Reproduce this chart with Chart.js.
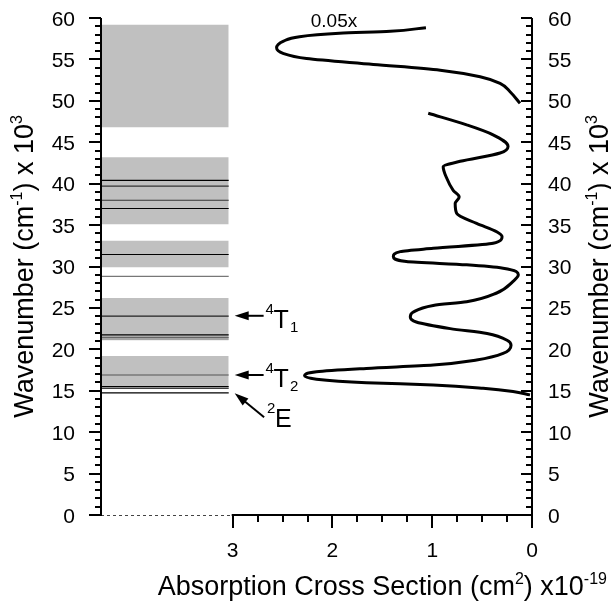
<!DOCTYPE html>
<html>
<head>
<meta charset="utf-8">
<script src="https://cdn.jsdelivr.net/npm/chart.js@4.4.0/dist/chart.umd.min.js"></script>
<style>
  html, body { margin: 0; padding: 0; background: #fff; }
  canvas { display: block; }
</style>
</head>
<body>
<canvas id="chart" width="611" height="607"></canvas>
<script>
// absorption spectrum: wavenumber (x10^3 cm-1) and cross section (x10^-19 cm2)
const absWavenumber = [48.5, 47.1, 45.9, 44.5, 43.7, 42.7, 42.05, 40.8, 39.2, 38.4, 37.6, 36.4, 35.2, 34.2, 33.6,
  32.8, 32.2, 31.8, 31.2, 30.6, 30.2, 29.8, 29.0, 28.2, 26.8, 25.75, 25.3, 24.5, 23.9, 23.3, 22.5, 21.9,
  21.1, 20.5, 19.5, 18.7, 18.1, 17.7, 17.3, 16.8, 16.4, 15.97, 15.7, 15.3, 14.9, 14.5];
const absCross = [1.04, 0.655, 0.39, 0.24, 0.32, 0.72, 0.89, 0.86, 0.79, 0.73, 0.77, 0.755, 0.555, 0.354, 0.30,
  0.39, 0.99, 1.32, 1.39, 1.26, 0.655, 0.29, 0.137, 0.19, 0.354, 0.655, 0.99, 1.19, 1.22, 1.16, 0.82, 0.45,
  0.25, 0.21, 0.29, 0.555, 0.99, 1.66, 2.16, 2.28, 2.16, 1.66, 0.99, 0.49, 0.19, 0.02];

// UV part, drawn at 0.05x
const uvWavenumber = [58.83, 58.4, 58.15, 57.75, 57.2, 56.4, 55.7, 55.1, 54.4, 53.7, 52.9, 52.1, 51.1, 49.7];
const uvCross = [1.063, 1.42, 1.93, 2.33, 2.49, 2.56, 2.49, 2.26, 1.59, 0.92, 0.52, 0.32, 0.22, 0.12];

// level diagram: grey bands and single levels (x10^3 cm-1)
const bandLow = [46.8, 35.1, 29.9, 21.1, 15.45];
const bandHigh = [59.2, 43.2, 33.1, 26.2, 19.2];
const levels = [40.4, 39.7, 38.0, 37.0, 31.45, 28.8, 24.0, 21.75, 21.45, 21.25, 16.9, 15.5, 15.3, 14.75];
const levelColors = ['#000', '#333', '#333', '#000', '#000', '#777', '#222', '#000', '#666', '#888', '#555', '#000', '#000', '#000'];

const yTicks = [0, 5, 10, 15, 20, 25, 30, 35, 40, 45, 50, 55, 60];
const xTicks = [3, 2, 1, 0];

// arrows pointing at the levels: [tailX, tailY, tipX, tipY], and their labels
const arrows = [[2.69, 24.05, 2.98, 24.05], [2.69, 16.9, 2.98, 16.9], [2.685, 11.8, 2.98, 14.7]];
const arrowLabels = [['4', 'T', '1'], ['4', 'T', '2'], ['2', 'E', '']];

const FONT = '"Liberation Sans", Arial, sans-serif';
const diagramX = [3.04, 4.31];

const datasets = [];
bandLow.forEach((lo, i) => {
  datasets.push({
    data: [{x: diagramX[0], y: bandHigh[i]}, {x: diagramX[1], y: bandHigh[i]}],
    borderWidth: 0,
    backgroundColor: '#c0c0c0',
    fill: {value: lo},
    pointRadius: 0,
    order: 3
  });
});
levels.forEach((l, i) => {
  datasets.push({
    data: [{x: diagramX[0], y: l}, {x: diagramX[1], y: l}],
    borderColor: levelColors[i],
    borderWidth: 1.2,
    pointRadius: 0,
    fill: false,
    order: 2
  });
});
datasets.push({
  data: absWavenumber.map((w, i) => ({x: absCross[i], y: w})),
  indexAxis: 'y',
  borderColor: '#000',
  borderWidth: 3,
  pointRadius: 0,
  fill: false,
  cubicInterpolationMode: 'monotone',
  order: 1
});
datasets.push({
  data: uvWavenumber.map((w, i) => ({x: uvCross[i], y: w})),
  indexAxis: 'y',
  borderColor: '#000',
  borderWidth: 3,
  pointRadius: 0,
  fill: false,
  cubicInterpolationMode: 'monotone',
  order: 1
});

function drawRich(ctx, parts, size) {
  // parts: [text, 'sup'|'sub'|''] ; draws starting at current origin, returns width
  let w = 0;
  parts.forEach(([t, kind]) => {
    const s = kind ? Math.round(size * 0.6) : size;
    ctx.font = s + 'px ' + FONT;
    const dy = kind === 'sup' ? -size * 0.4 : kind === 'sub' ? size * 0.2 : 0;
    ctx.fillText(t, w, dy);
    w += ctx.measureText(t).width;
  });
  return w;
}
function richWidth(ctx, parts, size) {
  let w = 0;
  parts.forEach(([t, kind]) => {
    const s = kind ? Math.round(size * 0.6) : size;
    ctx.font = s + 'px ' + FONT;
    w += ctx.measureText(t).width;
  });
  return w;
}

const axesPlugin = {
  id: 'axes',
  afterDraw(chart) {
    const {ctx, chartArea: a, scales: {x, y}} = chart;
    ctx.save();
    ctx.strokeStyle = '#000';
    ctx.fillStyle = '#000';
    ctx.lineCap = 'butt';

    // dotted base under the level diagram
    const x3 = x.getPixelForValue(3);
    ctx.setLineDash([3, 3]);
    ctx.lineWidth = 1;
    ctx.strokeStyle = '#444';
    ctx.beginPath(); ctx.moveTo(a.left, a.bottom + 0.5); ctx.lineTo(x3, a.bottom + 0.5); ctx.stroke();
    ctx.setLineDash([]);
    ctx.strokeStyle = '#000';

    // axis lines
    ctx.lineWidth = 2;
    ctx.beginPath();
    ctx.moveTo(a.left, a.top); ctx.lineTo(a.left, a.bottom + 1);
    ctx.moveTo(a.right, a.top); ctx.lineTo(a.right, a.bottom + 1);
    ctx.moveTo(x3 - 1, a.bottom); ctx.lineTo(a.right + 1, a.bottom);
    ctx.stroke();

    // y ticks, left outward and right inward
    for (let v = 0; v <= 60; v++) {
      const py = Math.round(y.getPixelForValue(v));
      const major = v % 5 === 0;
      ctx.beginPath();
      ctx.moveTo(a.left - (major ? 12 : 6), py); ctx.lineTo(a.left, py);
      ctx.moveTo(a.right - (major ? 11 : 6), py); ctx.lineTo(a.right, py);
      ctx.stroke();
    }
    // x ticks
    for (let v = 0; v <= 3.001; v += 0.25) {
      const px = Math.round(x.getPixelForValue(v));
      const major = Math.abs(v - Math.round(v)) < 1e-6;
      ctx.beginPath();
      ctx.moveTo(px, a.bottom); ctx.lineTo(px, a.bottom + (major ? 13 : 7));
      ctx.stroke();
    }

    // tick labels
    ctx.font = '21px ' + FONT;
    ctx.textBaseline = 'alphabetic';
    yTicks.forEach(v => {
      const py = y.getPixelForValue(v) + 7.5;
      ctx.textAlign = 'right';
      ctx.fillText(String(v), a.left - 26, py);
      ctx.textAlign = 'left';
      ctx.fillText(String(v), a.right + 16, py);
    });
    ctx.textAlign = 'center';
    xTicks.forEach(v => ctx.fillText(String(v), x.getPixelForValue(v), a.bottom + 42));

    // axis titles
    ctx.textAlign = 'left';
    const yTitle = [['Wavenumber (cm', ''], ['-1', 'sup'], [') x 10', ''], ['3', 'sup']];
    const yw = richWidth(ctx, yTitle, 27);
    const cy = (a.top + a.bottom) / 2;
    [33, 608].forEach(bx => {
      ctx.save();
      ctx.translate(bx, cy);
      ctx.rotate(-Math.PI / 2);
      ctx.translate(-yw / 2, 0);
      drawRich(ctx, yTitle, 27);
      ctx.restore();
    });
    const xTitle = [['Absorption Cross Section (cm', ''], ['2', 'sup'], [') x10', ''], ['-19', 'sup']];
    const xw = richWidth(ctx, xTitle, 27);
    ctx.save();
    ctx.translate((x3 + a.right) / 2 - xw / 2, 595);
    drawRich(ctx, xTitle, 27);
    ctx.restore();

    // 0.05x label
    ctx.font = '19px ' + FONT;
    ctx.textAlign = 'center';
    ctx.fillText('0.05x', x.getPixelForValue(1.985), y.getPixelForValue(59.75) + 7);

    // arrows and term labels
    arrows.forEach((ar, i) => {
      const tx = x.getPixelForValue(ar[0]), ty = y.getPixelForValue(ar[1]);
      const hx = x.getPixelForValue(ar[2]), hy = y.getPixelForValue(ar[3]);
      const ang = Math.atan2(hy - ty, hx - tx);
      const hl = 14, hw = 4.5;
      ctx.lineWidth = 2;
      ctx.beginPath();
      ctx.moveTo(tx, ty);
      ctx.lineTo(hx - Math.cos(ang) * (hl - 2), hy - Math.sin(ang) * (hl - 2));
      ctx.stroke();
      ctx.beginPath();
      ctx.moveTo(hx, hy);
      ctx.lineTo(hx - Math.cos(ang) * hl - Math.sin(ang) * hw, hy - Math.sin(ang) * hl + Math.cos(ang) * hw);
      ctx.lineTo(hx - Math.cos(ang) * hl + Math.sin(ang) * hw, hy - Math.sin(ang) * hl - Math.cos(ang) * hw);
      ctx.closePath();
      ctx.fill();

      const [sup, main, sub] = arrowLabels[i];
      ctx.textAlign = 'left';
      const diag = Math.abs(ar[1] - ar[3]) > 0.5;
      const base = diag ? ty + 10 : ty + 12;
      const x0 = diag ? tx + 3 : tx + 2;
      ctx.font = '15px ' + FONT;
      ctx.fillText(sup, x0, base - 14);
      ctx.font = '25px ' + FONT;
      ctx.fillText(main, x0 + 8, base);
      const mw = ctx.measureText(main).width;
      ctx.font = '15px ' + FONT;
      ctx.fillText(sub, x0 + 8 + mw + 1, base + 4);
    });
    ctx.restore();
  }
};

new Chart(document.getElementById('chart'), {
  type: 'line',
  data: {datasets: datasets},
  options: {
    responsive: false,
    animation: false,
    layout: {padding: {left: 101, right: 79, top: 18, bottom: 92}},
    plugins: {legend: {display: false}, tooltip: {enabled: false}},
    scales: {
      x: {type: 'linear', min: 0, max: 4.32, reverse: true, display: false},
      y: {type: 'linear', min: 0, max: 60, display: false}
    }
  },
  plugins: [axesPlugin]
});
</script>
</body>
</html>
